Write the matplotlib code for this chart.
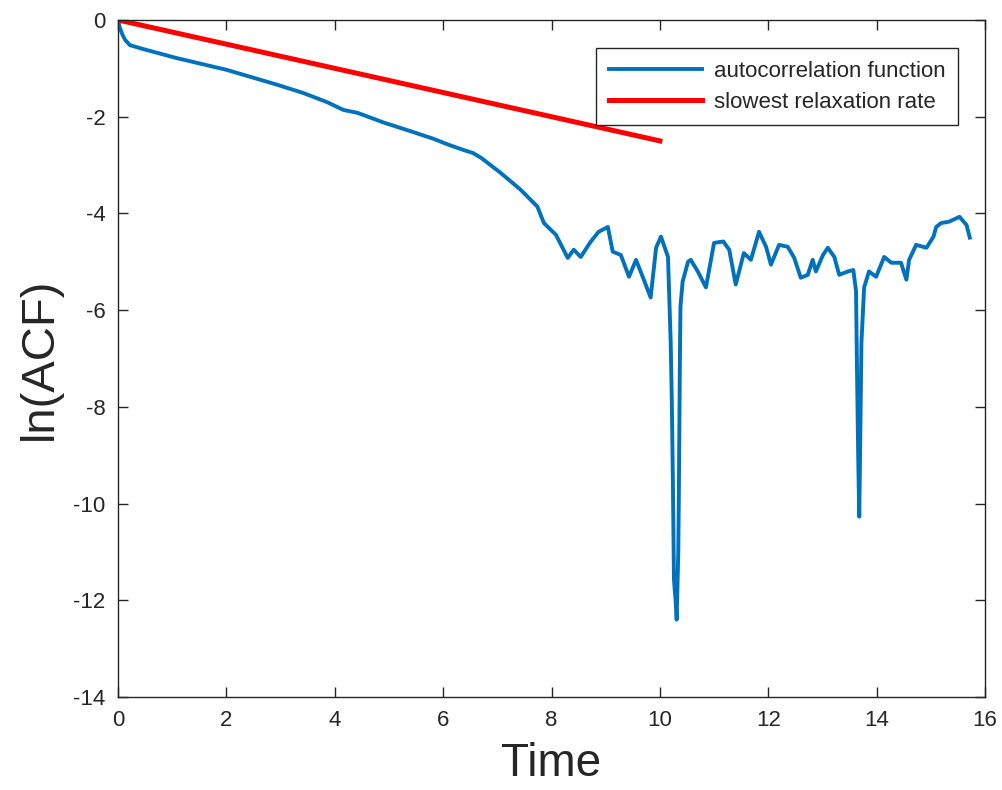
import matplotlib.pyplot as plt
import numpy as np

# ln of the autocorrelation function vs time
t_acf = [0.0, 0.03, 0.08, 0.13, 0.22, 0.46, 1.09, 2.0, 2.94, 3.42, 3.86, 4.16, 4.42,
         4.9, 5.4, 5.83, 6.1, 6.38, 6.55, 6.7, 7.06, 7.43, 7.74, 7.86, 8.08, 8.3,
         8.41, 8.54, 8.72, 8.87, 9.04, 9.13, 9.28, 9.43, 9.56, 9.69, 9.83, 9.93,
         10.02, 10.15, 10.2, 10.22, 10.24, 10.26, 10.29, 10.31, 10.34, 10.35, 10.37,
         10.38, 10.42, 10.52, 10.57, 10.7, 10.85, 11.0, 11.17, 11.28, 11.4, 11.55,
         11.68, 11.83, 11.96, 12.05, 12.2, 12.36, 12.48, 12.6, 12.73, 12.82, 12.88,
         13.01, 13.1, 13.22, 13.31, 13.47, 13.57, 13.62, 13.64, 13.66, 13.68, 13.7,
         13.72, 13.77, 13.86, 13.99, 14.14, 14.27, 14.45, 14.55, 14.6, 14.73, 14.92,
         15.05, 15.1, 15.19, 15.34, 15.53, 15.66, 15.72]
ln_acf = [0.0, -0.15, -0.3, -0.41, -0.52, -0.6, -0.79, -1.03, -1.34, -1.51, -1.7,
          -1.86, -1.92, -2.12, -2.3, -2.46, -2.58, -2.69, -2.75, -2.85, -3.16, -3.51,
          -3.86, -4.2, -4.44, -4.92, -4.75, -4.9, -4.59, -4.38, -4.28, -4.79, -4.86,
          -5.31, -4.96, -5.33, -5.74, -4.71, -4.48, -4.9, -6.67, -7.85, -9.5, -11.57,
          -12.0, -12.4, -11.0, -9.86, -7.0, -5.93, -5.41, -5.0, -4.96, -5.2, -5.53,
          -4.61, -4.58, -4.75, -5.47, -4.82, -4.96, -4.38, -4.69, -5.06, -4.65, -4.69,
          -4.92, -5.33, -5.27, -4.96, -5.2, -4.86, -4.71, -4.9, -5.27, -5.2, -5.17,
          -5.6, -7.37, -9.0, -10.27, -8.5, -6.67, -5.53, -5.2, -5.31, -4.9, -5.02,
          -5.02, -5.37, -4.96, -4.65, -4.71, -4.48, -4.28, -4.2, -4.17, -4.07, -4.24,
          -4.5]

# slowest relaxation rate, straight line through the origin
t_rate = [0.0, 10.0]
ln_rate = [0.0, -2.5]

plt.rcParams['font.family'] = ['Liberation Sans', 'DejaVu Sans']
plt.rcParams['axes.unicode_minus'] = False

fig = plt.figure(figsize=(10.02, 7.90), dpi=100)
ax = fig.add_axes([0.1178, 0.1177, 0.8652, 0.857])

ax.plot(t_acf, ln_acf, color='#0072bd', lw=2.8, label='autocorrelation function')
ax.plot(t_rate, ln_rate, color='#ff0000', lw=3.6, label='slowest relaxation rate')

ax.set_xlim(0, 16)
ax.set_ylim(-14, 0)
ax.set_xticks(np.arange(0, 17, 2))
ax.set_yticks(np.arange(-14, 1, 2))
ax.tick_params(direction='in', length=7, width=1, top=True, right=True,
               labelsize=16, colors='#262626', pad=9)
for s in ax.spines.values():
    s.set_color('#262626')
    s.set_linewidth(1.0)

ax.set_xlabel('Time', fontsize=33, color='#262626', labelpad=8)
ax.set_ylabel('ln(ACF)', fontsize=34, color='#262626', labelpad=8)

leg = ax.legend(loc='upper right', bbox_to_anchor=(0.969, 0.958), borderaxespad=0,
                fontsize=16, handlelength=4.2, handletextpad=0.55, borderpad=0.55,
                labelspacing=0.45, fancybox=False, framealpha=1)
leg.get_frame().set_edgecolor('#262626')
leg.get_frame().set_linewidth(1.0)
for txt in leg.get_texts():
    txt.set_color('#262626')

fig.savefig('out.png', dpi=100)
